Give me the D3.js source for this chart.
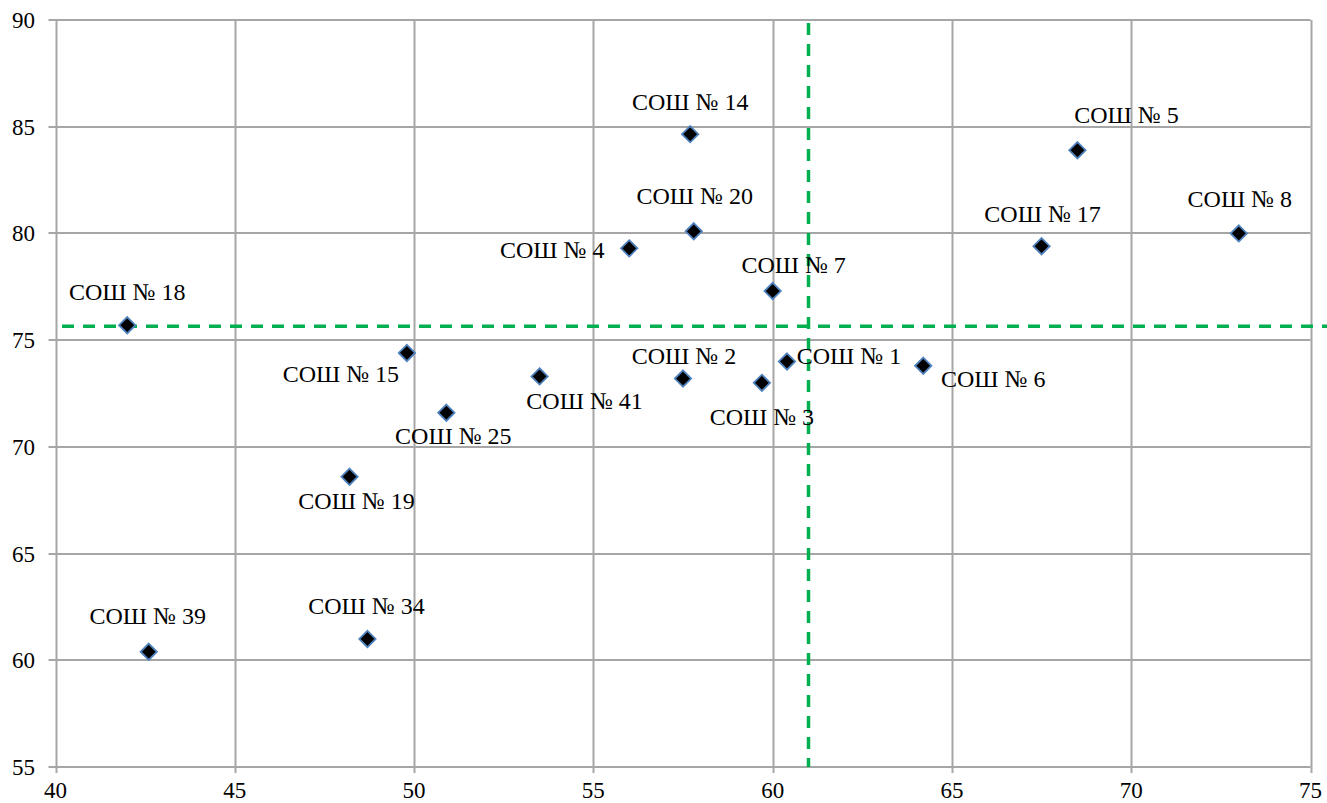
<!DOCTYPE html>
<html><head><meta charset="utf-8">
<script src="https://cdn.jsdelivr.net/npm/d3@7"></script>
<style>
html,body{margin:0;padding:0;background:#fff;}
</style></head>
<body><svg id="c" width="1327" height="803"></svg>
<script>
const schools = ["СОШ № 18","СОШ № 39","СОШ № 34","СОШ № 19","СОШ № 15","СОШ № 25","СОШ № 41","СОШ № 4","СОШ № 14","СОШ № 20","СОШ № 2","СОШ № 3","СОШ № 7","СОШ № 1","СОШ № 6","СОШ № 17","СОШ № 5","СОШ № 8"];
const xValues = [42.0,42.6,48.7,48.2,49.8,50.9,53.5,56.0,57.7,57.8,57.5,59.7,60.0,60.4,64.2,67.5,68.5,73.0];
const yValues = [75.7,60.4,61.0,68.6,74.4,71.6,73.3,79.3,84.65,80.1,73.2,73.0,77.3,74.0,73.8,79.4,83.9,80.0];
const xTicks = [40,45,50,55,60,65,70,75];
const yTicks = [55,60,65,70,75,80,85,90];
const xAverage = 61.0;
const yAverage = 75.65;
// label placement (pixel offsets of label centre from marker), layout only
const labelOffsets = [[0,-33],[-1,-36],[-1,-33],[7,24],[-66,21],[7,23],[45,25],[-77,2],[0,-32],[1,-35],[1,-23],[0,34],[21,-26],[62,-5],[70,13],[1,-32],[49,-35],[1,-34]];

const FONT = "'Liberation Serif','Times New Roman','DejaVu Serif',serif";
const svg = d3.select("#c").attr("font-family", FONT);
const L=55.5, R=1310.5, T=20, B=767;
const x = d3.scaleLinear().domain([40,75]).range([L,R]);
const y = d3.scaleLinear().domain([55,90]).range([B,T]);
const grid="#a6a6a6";

// grid
svg.append("g").selectAll("line").data(xTicks).join("line")
  .attr("x1",d=>Math.round(x(d))+0.5).attr("x2",d=>Math.round(x(d))+0.5)
  .attr("y1",T).attr("y2",B+6).attr("stroke",grid).attr("stroke-width",2);
svg.append("g").selectAll("line").data(yTicks).join("line")
  .attr("y1",d=>Math.round(y(d))).attr("y2",d=>Math.round(y(d)))
  .attr("x1",L-7).attr("x2",R).attr("stroke",grid).attr("stroke-width",2);

// tick labels
svg.append("g").selectAll("text").data(yTicks).join("text")
  .attr("x",35).attr("y",d=>y(d)+8).attr("text-anchor","end").attr("font-family",FONT)
  .attr("font-size",23).attr("fill","#000").text(d=>d);
svg.append("g").selectAll("text").data(xTicks).join("text")
  .attr("x",d=>x(d)).attr("y",798).attr("text-anchor","middle").attr("font-family",FONT)
  .attr("font-size",23).attr("fill","#000").text(d=>d);

// average lines
svg.append("line").attr("x1",x(xAverage)).attr("x2",x(xAverage)).attr("y1",T+3).attr("y2",B)
  .attr("stroke","#00b050").attr("stroke-width",3.5).attr("stroke-dasharray","12,9");
svg.append("line").attr("x1",62).attr("x2",R+20).attr("y1",y(yAverage)).attr("y2",y(yAverage))
  .attr("stroke","#00b050").attr("stroke-width",3.5).attr("stroke-dasharray","12,9");

// points
const pts = schools.map((s,i)=>({s, x:xValues[i], y:yValues[i], o:labelOffsets[i]}));
const sym = d3.symbol().type(d3.symbolDiamond2).size(170);
svg.append("g").selectAll("path").data(pts).join("path")
  .attr("transform",d=>`translate(${x(d.x)},${y(d.y)})`)
  .attr("d",sym).attr("fill","#000").attr("stroke","#4f81bd").attr("stroke-width",1.8);

svg.append("g").selectAll("text").data(pts).join("text")
  .attr("x",d=>x(d.x)+d.o[0]).attr("y",d=>y(d.y)+d.o[1]+8).attr("font-family",FONT)
  .attr("text-anchor","middle").attr("font-size",24).attr("fill","#000").text(d=>d.s);
</script></body></html>
